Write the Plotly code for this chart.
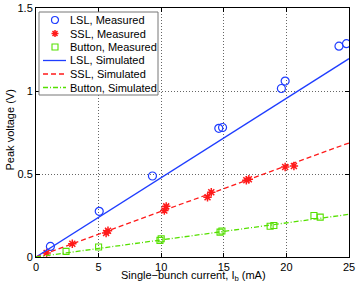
import plotly.graph_objects as go

lsl_x = [1.15, 5.05, 9.3, 14.6, 14.9, 19.6, 19.9, 24.2, 24.8]
lsl_y = [0.064, 0.275, 0.488, 0.775, 0.78, 1.015, 1.06, 1.27, 1.285]

ssl_x = [0.85, 2.9, 5.6, 5.75, 10.25, 10.4, 13.7, 14.0, 16.8, 17.0, 19.9, 20.6]
ssl_y = [0.024, 0.08, 0.145, 0.158, 0.28, 0.305, 0.36, 0.39, 0.462, 0.468, 0.542, 0.548]

btn_x = [2.4, 5.0, 9.9, 10.0, 14.7, 14.85, 18.7, 19.0, 22.2, 22.7]
btn_y = [0.034, 0.06, 0.10, 0.11, 0.15, 0.157, 0.185, 0.19, 0.25, 0.24]

sim_x = [0, 25]
lsl_sim = [0, 1.195]
ssl_sim = [0, 0.687]
btn_sim = [0, 0.257]

xticks = [0, 5, 10, 15, 20, 25]
yticks = [0, 0.5, 1, 1.5]
yticktext = ["0", "0.5", "1", "1.5"]

legend_names = ["LSL, Measured", "SSL, Measured", "Button, Measured",
                "LSL, Simulated", "SSL, Simulated", "Button, Simulated"]

BLUE = "#1f3dff"
RED = "#ff1a1a"
GREEN = "#55e000"
DASH_SSL = "5px,3px"
DASH_BTN = "5px,2px,1px,2px"

W, H = 359, 287
ML, MR, MT, MB = 36, 10, 8, 30
PW, PH = W - ML - MR, H - MT - MB

fig = go.Figure()
fig.add_trace(go.Scatter(x=lsl_x, y=lsl_y, mode="markers", name=legend_names[0],
                         marker=dict(symbol="circle-open", size=8, color=BLUE, line=dict(width=1.2, color=BLUE))))
fig.add_trace(go.Scatter(x=ssl_x, y=ssl_y, mode="markers", name=legend_names[1],
                         marker=dict(symbol="asterisk-open", size=7, color=RED, line=dict(width=1.5, color=RED))))
fig.add_trace(go.Scatter(x=btn_x, y=btn_y, mode="markers", name=legend_names[2],
                         marker=dict(symbol="square-open", size=6, color=GREEN, line=dict(width=1.1, color=GREEN))))
fig.add_trace(go.Scatter(x=sim_x, y=lsl_sim, mode="lines", name=legend_names[3],
                         line=dict(color=BLUE, width=1.3)))
fig.add_trace(go.Scatter(x=sim_x, y=ssl_sim, mode="lines", name=legend_names[4],
                         line=dict(color=RED, width=1.3, dash=DASH_SSL)))
fig.add_trace(go.Scatter(x=sim_x, y=btn_sim, mode="lines", name=legend_names[5],
                         line=dict(color=GREEN, width=1.3, dash=DASH_BTN)))

axis_common = dict(showline=True, linecolor="black", linewidth=1, mirror="ticks",
                   ticks="inside", ticklen=4, tickcolor="black",
                   showgrid=True, gridcolor="#666666", griddash="1px,2px", gridwidth=1,
                   zeroline=False, automargin=False, tickfont=dict(size=11, color="black"))

fig.update_xaxes(range=[0, 25], tickvals=xticks, **axis_common)
fig.update_yaxes(range=[0, 1.5], tickvals=yticks, ticktext=yticktext, **axis_common)


def px_x(p):
    return (p - ML) / PW


def px_y(p):
    return (H - MB - p) / PH


# ---- manual legend (MATLAB-style compact box) ----
box_l, box_r, box_t, box_b = 39, 158, 12, 95
shapes = [dict(type="rect", xref="paper", yref="paper",
               x0=px_x(box_l), x1=px_x(box_r), y0=px_y(box_b), y1=px_y(box_t),
               fillcolor="white", line=dict(color="#777777", width=1), layer="above")]
annotations = []
row0, row_step = 20, 13.5
text_x = 68
mk_x = 55
for i, name in enumerate(legend_names):
    cy = row0 + i * row_step
    annotations.append(dict(text=name, xref="paper", yref="paper", x=px_x(text_x), y=px_y(cy),
                            xanchor="left", yanchor="middle", showarrow=False,
                            font=dict(size=11, color="black")))
    common = dict(xref="paper", yref="paper", xsizemode="pixel", ysizemode="pixel",
                  xanchor=px_x(mk_x), yanchor=px_y(cy), layer="above")
    if i == 0:
        shapes.append(dict(type="circle", x0=-3.5, x1=3.5, y0=-3.5, y1=3.5,
                           line=dict(color=BLUE, width=1.2), **common))
    elif i == 1:
        shapes.append(dict(type="path",
                           path="M-3.5,0L3.5,0M0,-3.5L0,3.5M-2.5,-2.5L2.5,2.5M-2.5,2.5L2.5,-2.5",
                           line=dict(color=RED, width=1.5), **common))
    elif i == 2:
        shapes.append(dict(type="rect", x0=-3, x1=3, y0=-3, y1=3,
                           line=dict(color=GREEN, width=1.1), **common))
    else:
        col = [BLUE, RED, GREEN][i - 3]
        dash = ["solid", DASH_SSL, DASH_BTN][i - 3]
        shapes.append(dict(type="line", x0=-12, x1=11, y0=0, y1=0,
                           line=dict(color=col, width=1.3, dash=dash), **common))

# ---- axis titles ----
annotations.append(dict(text="Single\u2212bunch current, I<sub>b</sub> (mA)", xref="paper", yref="paper",
                        x=px_x(193.5), y=px_y(276), xanchor="center", yanchor="middle", showarrow=False,
                        font=dict(size=11, color="black")))
annotations.append(dict(text="Peak voltage (V)", xref="paper", yref="paper",
                        x=px_x(9.5), y=px_y(130), xanchor="center", yanchor="middle", textangle=-90,
                        showarrow=False, font=dict(size=11, color="black")))

fig.update_layout(
    width=W, height=H,
    margin=dict(l=ML, r=MR, t=MT, b=MB),
    paper_bgcolor="white", plot_bgcolor="white",
    font=dict(family="Liberation Sans, Arial, sans-serif", size=11, color="black"),
    showlegend=False,
    shapes=shapes,
    annotations=annotations,
)

fig.write_html("out.html", config={"displayModeBar": False, "staticPlot": True},
               post_script="document.body.style.margin='0px';document.body.style.overflow='hidden';")
